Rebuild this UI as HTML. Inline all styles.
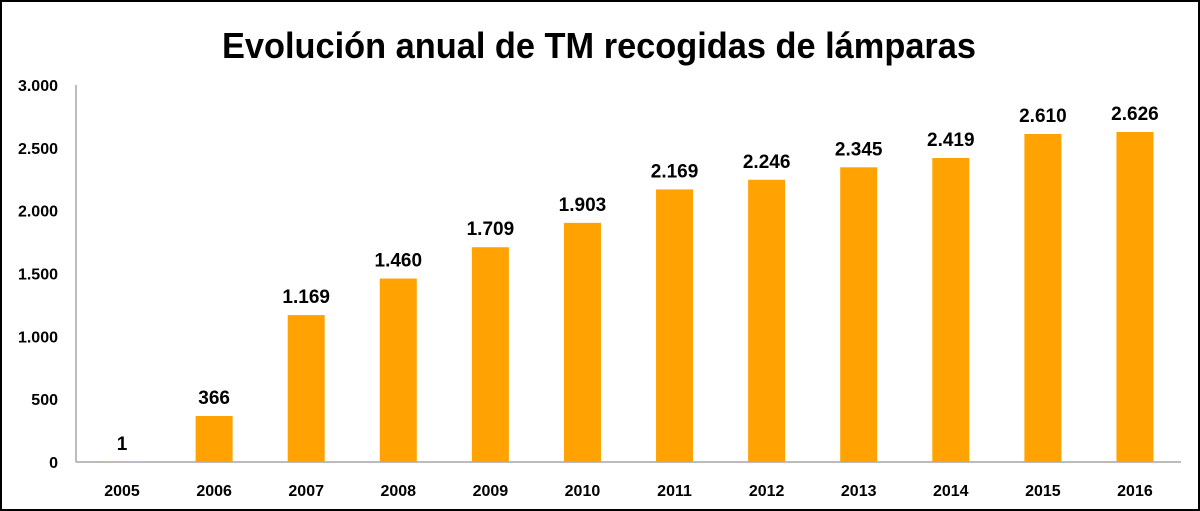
<!DOCTYPE html>
<html><head><meta charset="utf-8"><style>
html,body{margin:0;padding:0;background:#fff;}
svg{display:block;font-family:"Liberation Sans",sans-serif;}
</style></head><body>
<svg id="chart" width="1200" height="511">
<rect x="1" y="1" width="1198" height="509" fill="#fff" stroke="#000" stroke-width="2"/>
<text x="599" y="58" text-anchor="middle" font-size="36" font-weight="bold" textLength="754" lengthAdjust="spacingAndGlyphs" fill="#000">Evolución anual de TM recogidas de lámparas</text>
<g id="axes"></g>
<g id="bars"></g>
</svg>
<script>
const categories = ["2005","2006","2007","2008","2009","2010","2011","2012","2013","2014","2015","2016"];
const values = [1,366,1169,1460,1709,1903,2169,2246,2345,2419,2610,2626];
const valueLabels = ["1","366","1.169","1.460","1.709","1.903","2.169","2.246","2.345","2.419","2.610","2.626"];
const yTicks = [0,500,1000,1500,2000,2500,3000];
const yTickLabels = ["0","500","1.000","1.500","2.000","2.500","3.000"];

const NS="http://www.w3.org/2000/svg";
const x0=76,x1=1181,yBase=462,yTop=85,yMax=3000;
const band=(x1-x0)/categories.length;
const barW=37;
const y=v=>yBase-(v/yMax)*(yBase-yTop);
const xc=i=>x0+band*(i+0.5);
function mk(tag,attrs,parent){const e=document.createElementNS(NS,tag);for(const k in attrs)e.setAttribute(k,attrs[k]);parent.appendChild(e);return e;}
const axes=document.getElementById('axes'),bars=document.getElementById('bars');

let ya=mk('line',{x1:x0,y1:yTop,x2:x0,y2:yBase,stroke:'#a6a6a6','stroke-width':1.5},axes);


let xa=mk('line',{x1:x0,y1:yBase,x2:x1,y2:yBase,stroke:'#a6a6a6','stroke-width':1.5},axes);



yTicks.forEach((t,i)=>{
  const tx=mk('text',{x:58,y:y(t)+6,'text-anchor':'end','font-size':16,'font-weight':'bold',fill:'#000'},axes);
  tx.textContent=yTickLabels[i];
  
  
});

categories.forEach((c,i)=>{
  const r=mk('rect',{x:xc(i)-barW/2,y:y(values[i]),width:barW,height:yBase-y(values[i]),fill:'#FFA202'},bars);
  
  
  const vl=mk('text',{x:xc(i),y:y(values[i])-12,'text-anchor':'middle','font-size':19,'font-weight':'bold',fill:'#000'},bars);
  vl.textContent=valueLabels[i];
  
  
  const cl=mk('text',{x:xc(i),y:496,'text-anchor':'middle','font-size':16,'font-weight':'bold',fill:'#000'},bars);
  cl.textContent=c;
  
  
});
</script>
</body></html>
